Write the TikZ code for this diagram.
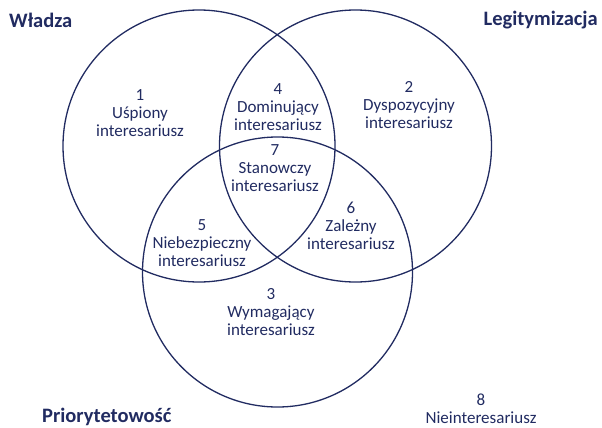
\documentclass[tikz,border=0pt]{standalone}
\usepackage{fontspec}
\setmainfont{Carlito}
\definecolor{navy}{RGB}{33,43,97}
\begin{document}
\begin{tikzpicture}[x=1pt,y=-1pt,
  ring/.style={draw=navy,line width=1.3pt},
  lbl/.style={text=navy,align=center,font=\fontsize{17}{18}\selectfont,inner sep=0pt},
  ttl/.style={text=navy,font=\fontsize{20.5}{22}\selectfont\bfseries,inner sep=0pt}]
\useasboundingbox (0,0) rectangle (602,428);
\draw[ring] (199,146) circle[radius=136];
\draw[ring] (355.5,146) circle[radius=136];
\draw[ring] (277.5,272) circle[radius=135];
\node[ttl,anchor=west] (w) at (9,20) {Władza};
\node[ttl,anchor=east] (l) at (598,20) {Legitymizacja};
\node[ttl,anchor=west] (p) at (42,417) {Priorytetowość};
\node[lbl] (n1) at (140,113) {1\\Uśpiony\\interesariusz};
\node[lbl] (n2) at (409,105) {2\\Dyspozycyjny\\interesariusz};
\node[lbl] (n4) at (278,107) {4\\Dominujący\\interesariusz};
\node[lbl] (n7) at (275,168) {7\\Stanowczy\\interesariusz};
\node[lbl] (n6) at (351,226) {6\\Zależny\\interesariusz};
\node[lbl] (n5) at (202,243) {5\\Niebezpieczny\\interesariusz};
\node[lbl] (n3) at (271,312) {3\\Wymagający\\interesariusz};
\node[lbl] (n8) at (481,409) {8\\Nieinteresariusz};
\end{tikzpicture}
\end{document}
